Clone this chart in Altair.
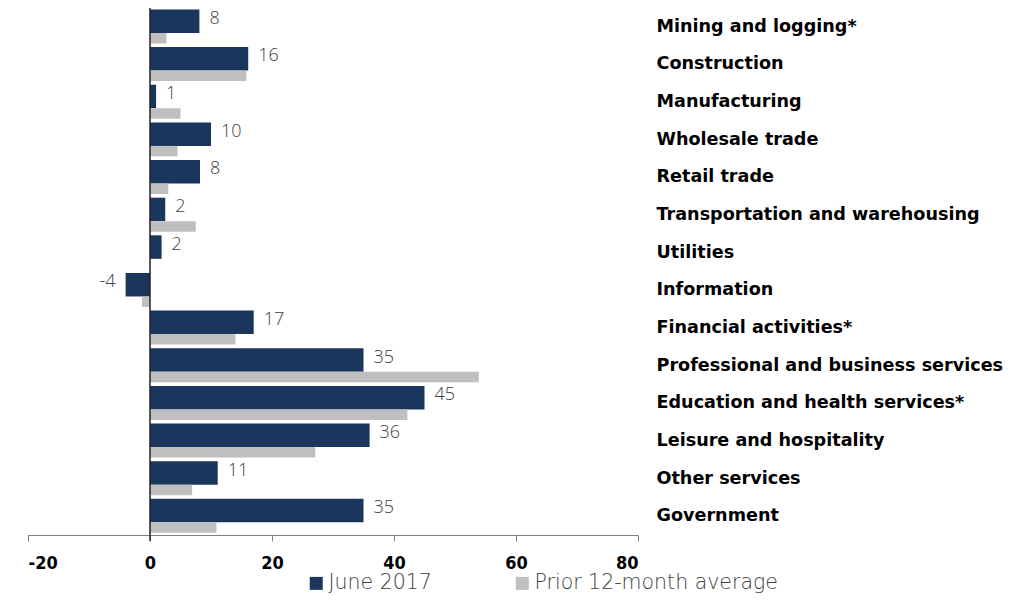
import altair as alt
import pandas as pd

categories = [
    "Mining and logging*", "Construction", "Manufacturing", "Wholesale trade",
    "Retail trade", "Transportation and warehousing", "Utilities", "Information",
    "Financial activities*", "Professional and business services",
    "Education and health services*", "Leisure and hospitality",
    "Other services", "Government",
]
june_2017 = [8.1, 16.1, 1.0, 10.0, 8.2, 2.5, 1.9, -4.0, 17.0, 35.0, 45.0, 36.0, 11.1, 35.0]
prior_avg = [2.7, 15.8, 5.0, 4.5, 3.0, 7.5, 0.0, -1.3, 14.0, 53.9, 42.2, 27.1, 6.9, 10.9]
june_labels = ["8", "16", "1", "10", "8", "2", "2", "-4", "17", "35", "45", "36", "11", "35"]
series_names = ["June 2017", "Prior 12-month average"]
series_colors = ["#1b365d", "#bfbfbf"]
x_ticks = [-20, 0, 20, 40, 60, 80]

rows = []
for c, j, p, lab in zip(categories, june_2017, prior_avg, june_labels):
    rows.append({"category": c, "series": series_names[0], "value": j, "label": lab})
    rows.append({"category": c, "series": series_names[1], "value": p, "label": ""})
df = pd.DataFrame(rows)

W, H = 610, 527
LABEL_FONT = "DejaVu Sans"
TICK_FONT = "DejaVu Sans Condensed, DejaVu Sans"
LIGHT_FONT = "Open Sans"
LEGEND_FONT = "DejaVu Sans"

x_enc = alt.X(
    "value:Q",
    scale=alt.Scale(domain=[-20, 80], nice=False, zero=False),
    axis=alt.Axis(
        values=x_ticks, title=None, grid=False, domainColor="#808080",
        tickColor="#808080", tickSize=6, labelFont=TICK_FONT,
        labelFontWeight="bold", labelFontSize=18, labelColor="#000000",
        labelPadding=13, labelExpr="'' + datum.value",
    ),
)
y_enc = alt.Y(
    "category:N", sort=categories,
    scale=alt.Scale(paddingInner=0, paddingOuter=0),
    axis=alt.Axis(
        orient="right", title=None, domain=False, ticks=False,
        labelAlign="left", labelBaseline="middle", labelPadding=18,
        labelFont=LABEL_FONT, labelFontWeight="bold", labelFontSize=17.6,
        labelColor="#000000", labelLimit=500,
    ),
)
color_enc = alt.Color(
    "series:N",
    scale=alt.Scale(domain=series_names, range=series_colors),
    legend=alt.Legend(
        orient="none", legendX=278, legendY=565, direction="horizontal",
        title=None, symbolType="square", symbolSize=169, symbolStrokeWidth=0,
        labelFont=LEGEND_FONT, labelFontWeight=200, labelFontSize=20.5,
        labelColor="#404040", columnPadding=80, labelOffset=2, labelLimit=400,
    ),
)

base = alt.Chart(df)

blue = base.transform_filter(alt.datum.series == series_names[0]).mark_bar(
    size=23.5, yOffset=-5.6
).encode(x=x_enc, y=y_enc, color=color_enc)

gray = base.transform_filter(alt.datum.series == series_names[1]).mark_bar(
    size=10.5, yOffset=11.4
).encode(x=x_enc, y=y_enc, color=color_enc)

txt_pos = base.transform_filter(
    (alt.datum.series == series_names[0]) & (alt.datum.value >= 0)
).mark_text(
    align="left", baseline="middle", dx=10, yOffset=-8,
    font=LIGHT_FONT, fontWeight=300, fontSize=18, color="#404040",
).encode(x=alt.X("value:Q"), y=alt.Y("category:N", sort=categories), text="label:N")

txt_neg = base.transform_filter(
    (alt.datum.series == series_names[0]) & (alt.datum.value < 0)
).mark_text(
    align="right", baseline="middle", dx=-10, yOffset=-8,
    font=LIGHT_FONT, fontWeight=300, fontSize=18, color="#404040",
).encode(x=alt.X("value:Q"), y=alt.Y("category:N", sort=categories), text="label:N")

zero_line = alt.Chart(pd.DataFrame({"z": [0]})).mark_rule(
    color="#222222", strokeWidth=1.5
).encode(x=alt.X("z:Q"), y=alt.value(-2), y2=alt.value(H + 6))

chart = alt.layer(blue, gray, zero_line, txt_pos, txt_neg).properties(
    width=W, height=H, autosize="none",
    padding={"left": 20, "top": 0, "right": 367, "bottom": 60},
).configure_view(stroke=None)

chart.save("out.html", embed_options={"renderer": "svg", "actions": False})
